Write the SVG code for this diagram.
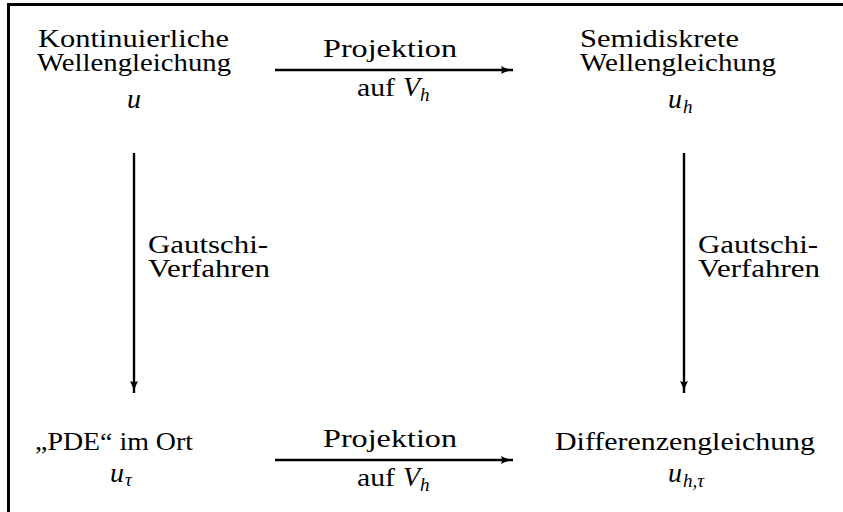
<svg xmlns="http://www.w3.org/2000/svg" width="843" height="512" viewBox="0 0 843 512">
<style>
.t{font-family:"Liberation Serif","Times New Roman",serif;font-size:26px;fill:#000}
.m{font-family:"Liberation Serif","Times New Roman",serif;font-size:28px;font-style:italic;fill:#000}
.s{font-size:19px}
.c{stroke:#000;stroke-width:2.4;fill:none}
</style>
<defs>
<marker id="ah" markerWidth="14" markerHeight="10" refX="12" refY="5" orient="auto" markerUnits="userSpaceOnUse">
<path d="M0,1 Q5,4 12,5 Q5,6 0,9 Q2,5 0,1 Z" fill="#000"/>
</marker>
</defs>
<rect x="0" y="0" width="843" height="512" fill="#fff"/>
<g id="frame">
<rect x="7" y="3" width="836" height="3" fill="#000"/>
<rect x="7" y="3" width="3" height="509" fill="#000"/>
</g>
<g id="connectors">
<line class="c" x1="275" y1="70" x2="513" y2="70" marker-end="url(#ah)"/>
<line class="c" x1="275" y1="460" x2="513" y2="460" marker-end="url(#ah)"/>
<line class="c" x1="134" y1="153" x2="134" y2="393" marker-end="url(#ah)"/>
<line class="c" x1="684" y1="153" x2="684" y2="393" marker-end="url(#ah)"/>
<text class="t" x="323" y="57" textLength="134" lengthAdjust="spacingAndGlyphs">Projektion</text>
<text class="t" x="357" y="96" textLength="38" lengthAdjust="spacingAndGlyphs">auf</text>
<text class="m" x="403" y="96">V<tspan class="s" dy="5">h</tspan></text>
<text class="t" x="323" y="447" textLength="134" lengthAdjust="spacingAndGlyphs">Projektion</text>
<text class="t" x="357" y="486" textLength="38" lengthAdjust="spacingAndGlyphs">auf</text>
<text class="m" x="403" y="486">V<tspan class="s" dy="5">h</tspan></text>
<text class="t" x="148" y="253" textLength="120" lengthAdjust="spacingAndGlyphs">Gautschi-</text>
<text class="t" x="148" y="277" textLength="122" lengthAdjust="spacingAndGlyphs">Verfahren</text>
<text class="t" x="698" y="253" textLength="120" lengthAdjust="spacingAndGlyphs">Gautschi-</text>
<text class="t" x="698" y="277" textLength="122" lengthAdjust="spacingAndGlyphs">Verfahren</text>
</g>
<g id="node-kontinuierlich">
<text class="t" x="38" y="47" textLength="191" lengthAdjust="spacingAndGlyphs">Kontinuierliche</text>
<text class="t" x="37" y="71" textLength="194" lengthAdjust="spacingAndGlyphs">Wellengleichung</text>
<text class="m" x="127" y="108">u</text>
</g>
<g id="node-semidiskret">
<text class="t" x="580" y="47" textLength="159" lengthAdjust="spacingAndGlyphs">Semidiskrete</text>
<text class="t" x="580" y="71" textLength="196" lengthAdjust="spacingAndGlyphs">Wellengleichung</text>
<text class="m" x="668" y="108">u<tspan class="s" dx="1" dy="5">h</tspan></text>
</g>
<g id="node-pde">
<text class="t" x="35" y="450" textLength="158" lengthAdjust="spacingAndGlyphs">„PDE“ im Ort</text>
<text class="m" x="110" y="482">u<tspan class="s" dx="1" dy="4">τ</tspan></text>
</g>
<g id="node-differenz">
<text class="t" x="555" y="450" textLength="260" lengthAdjust="spacingAndGlyphs">Differenzengleichung</text>
<text class="m" x="668" y="482">u<tspan class="s" dx="1" dy="5">h,τ</tspan></text>
</g>
</svg>
